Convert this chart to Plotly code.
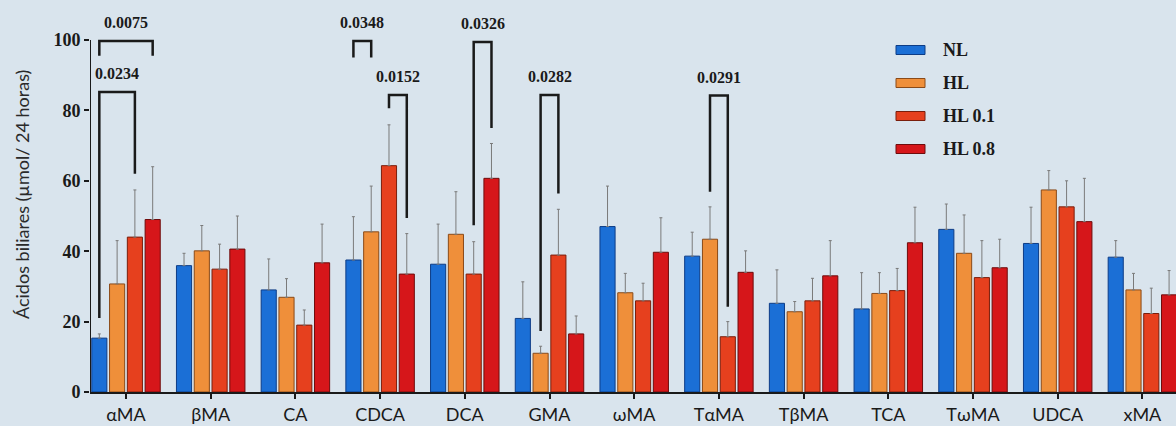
import plotly.graph_objects as go

categories = ["αMA", "βMA", "CA", "CDCA", "DCA", "GMA", "ωMA", "TαMA", "TβMA", "TCA", "TωMA", "UDCA", "xMA"]
series_names = ["NL", "HL", "HL 0.1", "HL 0.8"]

nl_mean   = [15.3, 35.9, 29.0, 37.5, 36.3, 20.9, 47.0, 38.6, 25.2, 23.6, 46.2, 42.2, 38.3]
nl_top    = [16.5, 39.4, 37.8, 49.8, 47.7, 31.3, 58.5, 45.4, 34.7, 33.9, 53.4, 52.5, 43.0]
hl_mean   = [30.7, 40.1, 26.9, 45.5, 44.8, 11.0, 28.2, 43.4, 22.8, 28.0, 39.4, 57.4, 29.0]
hl_top    = [43.0, 47.3, 32.2, 58.5, 56.9, 13.0, 33.7, 52.6, 25.7, 33.9, 50.3, 62.9, 33.7]
hl01_mean = [44.0, 34.9, 19.0, 64.3, 33.5, 38.9, 25.9, 15.7, 25.9, 28.8, 32.5, 52.6, 22.3]
hl01_top  = [57.4, 42.0, 23.3, 75.9, 42.7, 51.9, 30.9, 20.0, 32.3, 35.1, 43.0, 60.0, 29.5]
hl08_mean = [49.0, 40.6, 36.7, 33.5, 60.7, 16.5, 39.7, 34.0, 33.0, 42.4, 35.3, 48.4, 27.6]
hl08_top  = [64.0, 50.0, 47.7, 45.0, 70.6, 21.6, 49.5, 40.1, 43.0, 52.5, 43.4, 60.7, 34.5]

y_tick_values = [0, 20, 40, 60, 80, 100]

# significance brackets
bracket_cat   = ["αMA", "αMA", "CDCA", "CDCA", "DCA", "GMA", "TαMA"]
bracket_a     = [0, 0, 0, 2, 2, 1, 1]
bracket_b     = [3, 2, 1, 3, 3, 2, 2]
bracket_top   = [99.7, 85.2, 99.7, 84.4, 99.4, 84.4, 84.2]
bracket_lend  = [95.5, 21.0, 95.0, 80.6, 47.4, 17.3, 56.9]
bracket_rend  = [95.5, 62.0, 95.0, 49.4, 75.0, 56.4, 24.2]
bracket_label = ["0.0075", "0.0234", "0.0348", "0.0152", "0.0326", "0.0282", "0.0291"]

colors = ["#1b6fd6", "#ef8f3a", "#e6401e", "#d6161a"]
outline = ["#0d3c86", "#8a4a18", "#7a1e0c", "#6e0c0c"]

means = [nl_mean, hl_mean, hl01_mean, hl08_mean]
tops = [nl_top, hl_top, hl01_top, hl08_top]

BARGAP = 0.16
GROUPGAP = 0.15
n_series = len(series_names)
slot = (1 - BARGAP) / n_series

def bar_x(cat_idx, series_idx):
    return cat_idx - (1 - BARGAP) / 2 + (series_idx + 0.5) * slot

xs = list(range(len(categories)))
fig = go.Figure()
for i, name in enumerate(series_names):
    err = [t - m for t, m in zip(tops[i], means[i])]
    fig.add_trace(go.Bar(
        x=xs, y=means[i], name=name, showlegend=False,
        marker=dict(color=colors[i], line=dict(color=outline[i], width=1)),
        error_y=dict(type="data", array=err, arrayminus=[0] * len(err), symmetric=False,
                     color="#7a7a7a", thickness=1, width=1.5),
    ))

# plot geometry (pixels)
W, H = 1176, 426
ML, MR, MT, MB = 90, 0, 0, 34
plot_w = W - ML - MR
plot_h = H - MT - MB
px_per_cat = 84.7
x_lo = -(126 - ML) / px_per_cat
x_hi = x_lo + plot_w / px_per_cat
px_per_unit = 3.52
y_hi = plot_h / px_per_unit

def px2paper_x(px):
    return (px - ML) / plot_w

def py2paper_y(py):
    return (H - MB - py) / plot_h

shapes = []
annotations = []

# y axis line only from 0 to 100
shapes.append(dict(type="line", xref="x", yref="y", x0=x_lo, x1=x_lo, y0=0, y1=100,
                   line=dict(color="#1a1a1a", width=2)))

for c, a, b, top, le, re, lab in zip(bracket_cat, bracket_a, bracket_b, bracket_top,
                                     bracket_lend, bracket_rend, bracket_label):
    ci = categories.index(c)
    xa = bar_x(ci, a)
    xb = bar_x(ci, b)
    shapes.append(dict(type="path", xref="x", yref="y",
                       path=f"M {xa},{le} L {xa},{top} L {xb},{top} L {xb},{re}",
                       line=dict(color="#1a1a1a", width=2.5)))
    annotations.append(dict(x=(xa + xb) / 2, y=top + 5.2, xref="x", yref="y", text=f"<b>{lab}</b>",
                            showarrow=False, yanchor="middle",
                            font=dict(family="Liberation Serif", size=16, color="#1a1a1a")))

# manual legend
leg_rows = [50, 83, 116, 149]
for i, name in enumerate(series_names):
    cy = leg_rows[i]
    shapes.append(dict(type="rect", xref="paper", yref="paper",
                       x0=px2paper_x(896), x1=px2paper_x(925),
                       y0=py2paper_y(cy + 4.5), y1=py2paper_y(cy - 4.5),
                       fillcolor=colors[i], line=dict(color=outline[i], width=1)))
    annotations.append(dict(x=px2paper_x(941), y=py2paper_y(cy), xref="paper", yref="paper",
                            text=f"<b>{name}</b>", showarrow=False, xanchor="left", yanchor="middle",
                            font=dict(family="Liberation Serif", size=18, color="#1a1a1a")))

# y axis title
annotations.append(dict(x=0, y=py2paper_y(195), xref="paper", yref="paper", xshift=-68,
                        text="Ácidos biliares (µmol/ 24 horas)", textangle=-90, showarrow=False,
                        xanchor="center", yanchor="middle",
                        font=dict(family="Lato", size=18, color="#2a2a2a")))

fig.update_layout(
    width=W, height=H,
    margin=dict(l=ML, r=MR, t=MT, b=MB, pad=0),
    barmode="group", bargap=BARGAP, bargroupgap=GROUPGAP,
    paper_bgcolor="#d9e4ed", plot_bgcolor="#d9e4ed",
    shapes=shapes, annotations=annotations,
    showlegend=False,
    xaxis=dict(range=[x_lo, x_hi], tickmode="array", tickvals=xs, ticktext=categories,
               showline=True, linecolor="#1a1a1a", linewidth=2, ticks="outside", ticklen=5,
               tickwidth=2, tickcolor="#1a1a1a", showgrid=False, zeroline=False,
               tickfont=dict(family="Lato", size=18, color="#1a1a1a")),
    yaxis=dict(range=[0, y_hi], tickmode="array", tickvals=y_tick_values,
               showline=False, ticks="outside", ticklen=5, tickwidth=2, tickcolor="#1a1a1a",
               showgrid=False, zeroline=False,
               tickfont=dict(family="Liberation Serif", size=18, color="#1a1a1a", weight="bold")),
)

fig.write_html("out.html")
